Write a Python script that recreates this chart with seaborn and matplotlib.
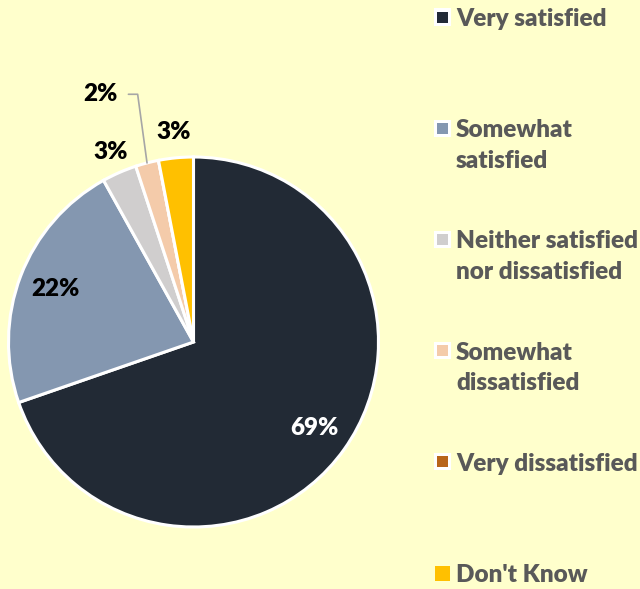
import numpy as np
import matplotlib
matplotlib.use("Agg")
import matplotlib.pyplot as plt
from matplotlib.patches import Rectangle
import seaborn as sns

# ---- data ----
categories = ["Very satisfied", "Somewhat satisfied", "Neither satisfied nor dissatisfied",
              "Somewhat dissatisfied", "Very dissatisfied", "Don't Know"]
legend_labels = ["Very satisfied", "Somewhat\nsatisfied", "Neither satisfied\nnor dissatisfied",
                 "Somewhat\ndissatisfied", "Very dissatisfied", "Don't Know"]
values = [69, 22, 3, 2, 0, 3]
colors = ["#222A35", "#8497B0", "#D0CECE", "#F4CBAA", "#B8651A", "#FFC000"]

# label placement style (radius as fraction of pie radius, angle nudge deg)
label_radius = [0.80, 0.80, 1.12, 1.43, 1.0, 1.14]
label_nudge = [0, 0, 0, 6, 0, 0]

sns.set_theme(style="white")
plt.rcParams["font.family"] = ["Lato", "DejaVu Sans"]

BG = "#FFFFCC"
W, H = 640, 589
fig = plt.figure(figsize=(W / 100, H / 100), dpi=100)
fig.patch.set_facecolor(BG)

cx, cy, r = 193.5, 342, 185
ax = fig.add_axes([(cx - r) / W, (H - cy - r) / H, 2 * r / W, 2 * r / H])
ax.set_facecolor(BG)
pal = sns.color_palette(colors)
wedges, _ = ax.pie(values, colors=pal, startangle=90, counterclock=False,
                   wedgeprops=dict(edgecolor="white", linewidth=2.2), radius=1)
ax.set_xlim(-1, 1)
ax.set_ylim(-1, 1)
ax.set_aspect("equal")
ax.axis("off")

FW = "heavy"
for i, (w, v) in enumerate(zip(wedges, values)):
    if v == 0:
        continue
    mid = (w.theta1 + w.theta2) / 2
    ang = np.deg2rad(mid + label_nudge[i])
    rr = label_radius[i]
    x, y = rr * np.cos(ang), rr * np.sin(ang)
    col = "white" if i == 0 else "black"
    ax.text(x, y, f"{v}%", ha="center", va="center", fontsize=17.5,
            fontweight=FW, color=col, clip_on=False)
    if i == 3:
        # leader line from label to wedge rim
        am = np.deg2rad(mid)
        rim = (np.cos(am), np.sin(am))
        lx0 = x + 0.15
        ax.plot([lx0, lx0 + 0.05, rim[0]], [y, y, rim[1]], color="#A6A6A6",
                lw=1.2, clip_on=False)

# ---- legend ----
mx, tx = 442, 456
for i, (lab, c) in enumerate(zip(legend_labels, colors)):
    yc = 17 + i * 111.2
    if i == len(colors) - 1:
        s = 15
        fig.add_artist(Rectangle(((mx - s / 2) / W, (H - yc - s / 2) / H), s / W, s / H,
                                 transform=fig.transFigure, facecolor=c, edgecolor="none"))
    else:
        so, si = 17, 11
        fig.add_artist(Rectangle(((mx - so / 2) / W, (H - yc - so / 2) / H), so / W, so / H,
                                 transform=fig.transFigure, facecolor="white", edgecolor="none"))
        fig.add_artist(Rectangle(((mx - si / 2) / W, (H - yc - si / 2) / H), si / W, si / H,
                                 transform=fig.transFigure, facecolor=c, edgecolor="none"))
    for k, line in enumerate(lab.split("\n")):
        fig.text(tx / W, (H - yc - k * 30.5) / H, line, ha="left", va="center_baseline",
                 fontsize=17.5, fontweight=FW, color="#595959")

fig.savefig("out.png", dpi=100, facecolor=BG)
